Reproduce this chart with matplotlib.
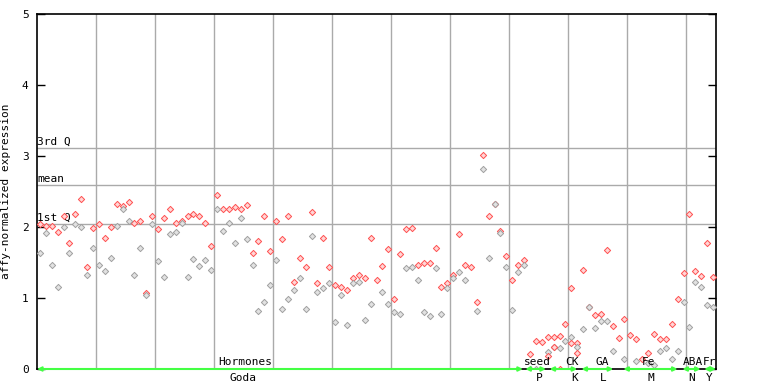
import numpy as np
import matplotlib
matplotlib.use("Agg")
import matplotlib.pyplot as plt

nan = np.nan

# expression per sample slot (115 slots), up to three replicates
rep1 = [2.04, 2.02, 2.02, 1.93, 2.15, 1.77, 2.19, 2.39, 1.44, 1.98,
        2.04, 1.85, 2.00, 2.32, 2.29, 2.35, 2.05, 2.09, 1.07, 2.15,
        1.97, 2.13, 2.26, 2.06, 2.09, 2.16, 2.18, 2.15, 2.05, 1.73,
        2.45, 2.25, 2.26, 2.28, 2.26, 2.31, 1.64, 1.80, 2.15, 1.66,
        2.09, 1.83, 2.16, 1.22, 1.56, 1.43, 2.21, 1.21, 1.85, 1.43,
        1.18, 1.15, 1.11, 1.28, 1.33, 1.28, 1.85, 1.26, 1.45, 1.69,
        0.99, 1.62, 1.97, 1.98, 1.47, 1.50, 1.50, 1.70, 1.16, 1.21,
        1.33, 1.90, 1.47, 1.43, 0.94, 3.01, 2.16, 2.33, 1.94, 1.59,
        1.26, 1.46, 1.54, 0.21, 0.39, 0.38, 0.45, 0.45, 0.46, 0.64,
        1.14, 0.36, 1.40, 0.88, 0.76, 0.77, 1.67, 0.60, 0.43, 0.70,
        0.48, 0.42, 0.14, 0.23, 0.49, 0.42, 0.42, 0.64, 0.98, 1.35,
        2.18, 1.38, 1.31, 1.77, 1.29]
rep2 = [1.63, 1.91, 1.47, 1.15, 2.00, 1.64, 2.04, 2.00, 1.33, 1.71,
        1.46, 1.38, 1.56, 2.02, 2.26, 2.09, 1.33, 1.71, 1.04, 2.04,
        1.52, 1.30, 1.90, 1.93, 2.05, 1.29, 1.55, 1.45, 1.54, 1.40,
        2.26, 1.95, 2.05, 1.77, 2.12, 1.83, 1.46, 0.81, 0.94, 1.19,
        1.54, 0.85, 0.99, 1.11, 1.28, 0.84, 1.88, 1.08, 1.14, 1.21,
        0.66, 1.04, 0.62, 1.21, 1.22, 0.69, 0.91, nan, 1.08, 0.92,
        0.80, 0.78, 1.42, 1.43, 1.25, 0.80, 0.74, 1.42, 0.77, 1.14,
        1.28, 1.37, 1.25, nan, 0.81, 2.81, 1.57, 2.32, 1.91, 1.43,
        0.83, 1.37, 1.46, 0.00, 0.00, nan, 0.24, 0.31, 0.29, 0.39,
        0.45, 0.31, 0.56, 0.88, 0.58, 0.67, 0.67, 0.25, nan, 0.14,
        nan, 0.11, nan, 0.09, 0.06, 0.25, 0.30, 0.14, 0.25, 0.94,
        0.59, 1.23, 1.16, 0.90, 0.88]
rep3_slot = [86, 87, 88, 90, 91]
rep3 = [0.18, 0.31, 0.00, 0.36, 0.22]

q1, mean, q3 = 2.04, 2.59, 3.11

# experiment groups: label above / below the green arrow, arrow span, label x
grp_top = ["Hormones", "seed", "CK", "GA", "Fe", "ABA", "Fr"]
grp_bot = ["Goda", "P", "K", "L", "M", "N", "Y"]
grp_start = [0, 82.7, 86.8, 92.2, 99.3, 109.3, 113.0]
grp_end = [82.3, 86.2, 91.5, 97.6, 108.5, 112.4, 115.0]
top_x = [35.2, 84.8, 90.6, 95.7, 103.5, 111.1, 113.9]
bot_x = [34.9, 85.0, 91.0, 95.9, 103.9, 110.8, 113.9]

n = len(rep1)
slots = np.arange(n) + 0.5

fig = plt.figure(figsize=(7.68, 3.84), dpi=100)
ax = fig.add_axes([37 / 768, 15 / 384, 679 / 768, 355 / 384])
font = {"family": "DejaVu Sans Mono", "size": 8}

for xv in range(10, 115, 10):
    ax.axvline(xv, color="#aaaaaa", lw=1, zorder=1)
for yv in (q1, mean, q3):
    ax.axhline(yv, color="#aaaaaa", lw=1, zorder=1)
for yv, lab in zip((q3, mean, q1), ("3rd Q", "mean", "1st Q")):
    ax.text(0.05, yv + 0.02, lab, ha="left", va="bottom", fontdict=font, zorder=3)

red = dict(marker="D", s=10, facecolor="#ffd6d6", edgecolor="#ff5050", linewidths=0.7, zorder=4)
gray = dict(marker="D", s=10, facecolor="#e2e2e2", edgecolor="#a0a0a0", linewidths=0.7, zorder=4)
ax.scatter(slots, rep1, **red)
ax.scatter(slots, rep2, **gray)
ax.scatter(np.array(rep3_slot) + 0.5, rep3, **red)

for s0, s1 in zip(grp_start, grp_end):
    ax.annotate("", xy=(s0, 0), xytext=(s1, 0), annotation_clip=False,
                arrowprops=dict(arrowstyle="<|-|>", color="#44ff44", lw=1.5,
                                mutation_scale=6, shrinkA=0, shrinkB=0), zorder=5)
for lab, xv in zip(grp_top, top_x):
    ax.text(xv, 0.03, lab, ha="center", va="bottom", fontdict=font, zorder=6)
for lab, xv in zip(grp_bot, bot_x):
    ax.text(xv, -0.05, lab, ha="center", va="top", fontdict=font, clip_on=False)

ax.set_xlim(0, 115)
ax.set_ylim(0, 5)
ax.set_xticks([])
ax.set_yticks(range(6))
ax.set_yticklabels([str(v) for v in range(6)], fontdict=font)
ax.tick_params(axis="y", direction="in", length=6, width=1, right=True, pad=6)
ax.set_ylabel("affy-normalized expression", fontdict=font, labelpad=8)
for sp in ax.spines.values():
    sp.set_linewidth(1.2)

fig.savefig("out.png", dpi=100)
